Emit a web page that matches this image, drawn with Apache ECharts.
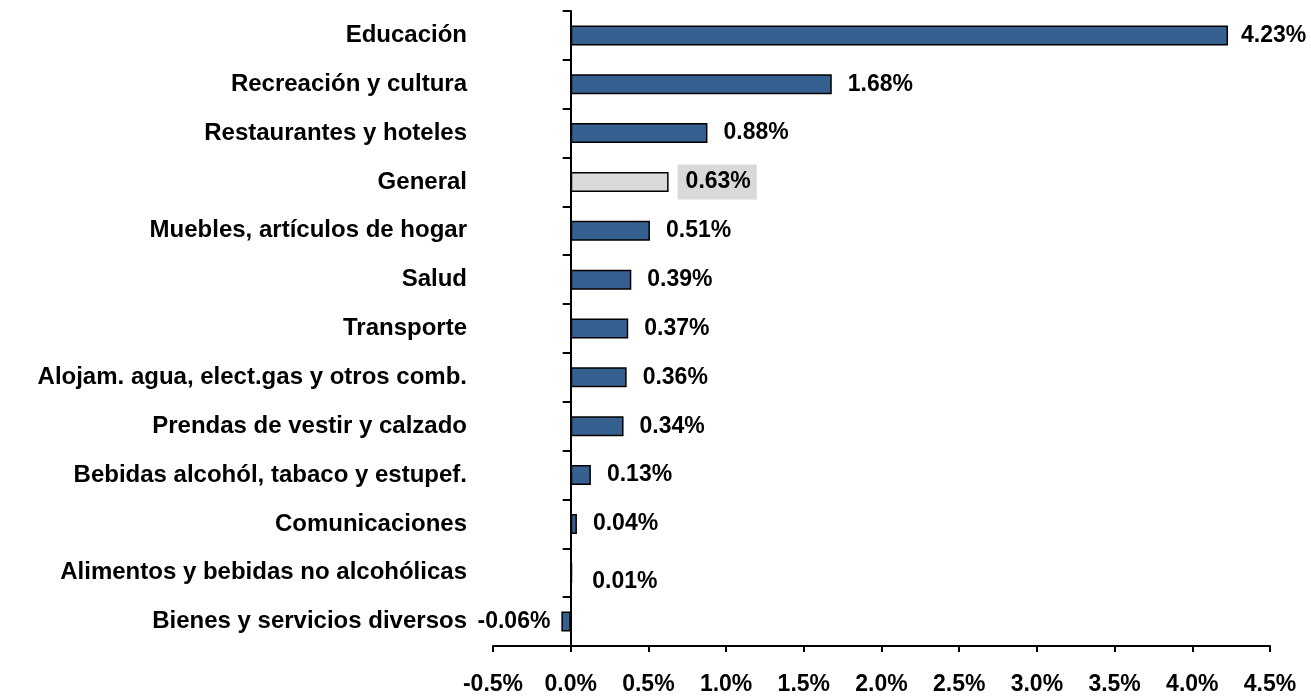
<!DOCTYPE html>
<html>
<head>
<meta charset="utf-8">
<script src="https://cdn.jsdelivr.net/npm/echarts@6/dist/echarts.min.js"></script>
<style>
  html, body { margin: 0; padding: 0; background: #fff; }
  #chart { width: 1311px; height: 696px; }
</style>
</head>
<body>
<div id="chart"></div>
<script>
// categorías, de arriba hacia abajo
var categories = [
  'Educación',
  'Recreación y cultura',
  'Restaurantes y hoteles',
  'General',
  'Muebles, artículos de hogar',
  'Salud',
  'Transporte',
  'Alojam. agua, elect.gas y otros comb.',
  'Prendas de vestir y calzado',
  'Bebidas alcohól, tabaco y estupef.',
  'Comunicaciones',
  'Alimentos y bebidas no alcohólicas',
  'Bienes y servicios diversos'
];
// variación en %
var values = [4.23, 1.68, 0.88, 0.63, 0.51, 0.39, 0.37, 0.36, 0.34, 0.13, 0.04, 0.01, -0.06];
var xTicks = [-0.5, 0.0, 0.5, 1.0, 1.5, 2.0, 2.5, 3.0, 3.5, 4.0, 4.5];

var font = '"Liberation Sans", Arial, sans-serif';
var chart = echarts.init(document.getElementById('chart'));

var seriesData = values.map(function (v, i) {
  var item = { value: v };
  if (categories[i] == 'General') {
    item.itemStyle = { color: '#d9d9d9' };
    item.label = { backgroundColor: '#d9d9d9', padding: [7, 6, 5, 8], distance: 9 };
  } else if (v < 0) {
    item.label = { position: 'left', distance: 11 };
  } else if (v < 0.02) {
    item.label = { offset: [4, 9] };
  } else if (v > 4) {
    item.label = { distance: 13 };
  }
  return item;
});

var option = {
  animation: false,
  grid: { left: 493, right: 41, top: 11, bottom: 50, containLabel: false },
  xAxis: {
    type: 'value',
    min: xTicks[0],
    max: xTicks[xTicks.length - 1],
    interval: 0.5,
    splitLine: { show: false },
    axisLine: { show: true, lineStyle: { color: '#000', width: 2 } },
    axisTick: { show: true, length: 6, lineStyle: { color: '#000', width: 2 } },
    axisLabel: {
      margin: 27,
      color: '#000',
      fontWeight: 'bold',
      fontSize: 23,
      fontFamily: font,
      formatter: function (v) { return v.toFixed(1) + '%'; }
    }
  },
  yAxis: {
    type: 'category',
    inverse: true,
    data: categories,
    axisLine: { show: true, onZero: true, lineStyle: { color: '#000', width: 2 } },
    axisTick: { show: true, length: 8, lineStyle: { color: '#000', width: 2 } },
    axisLabel: {
      margin: 26,
      color: '#000',
      fontWeight: 'bold',
      fontSize: 24,
      fontFamily: font
    }
  },
  series: [{
    type: 'bar',
    data: seriesData,
    barWidth: 20,
    itemStyle: { color: '#36608f', borderColor: '#000', borderWidth: 1.5 },
    label: {
      show: true,
      position: 'right',
      distance: 16,
      color: '#000',
      fontWeight: 'bold',
      fontSize: 23,
      fontFamily: font,
      formatter: function (p) { return p.value.toFixed(2) + '%'; }
    }
  }]
};

chart.setOption(option);
</script>
</body>
</html>
